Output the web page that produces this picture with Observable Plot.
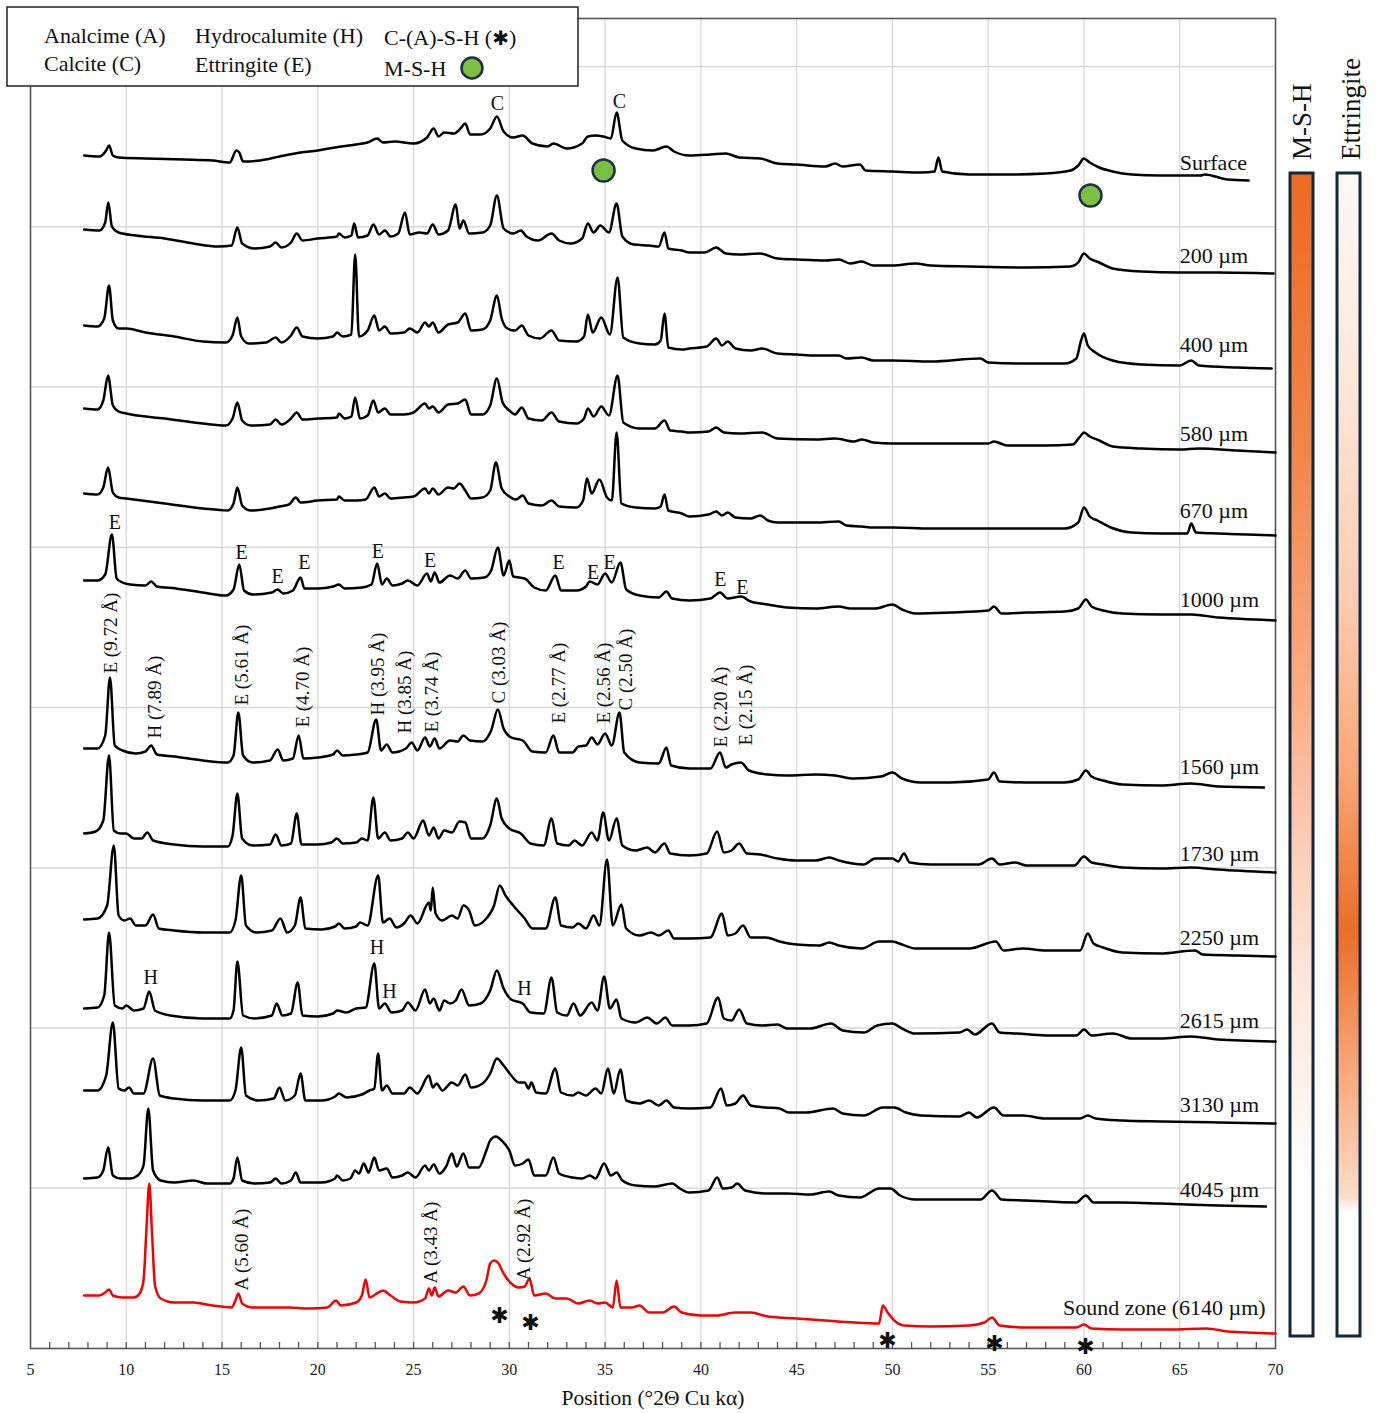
<!DOCTYPE html>
<html><head><meta charset="utf-8">
<script src="https://cdn.jsdelivr.net/npm/d3@7"></script>
<script src="https://cdn.jsdelivr.net/npm/@observablehq/plot@0.6"></script>
<style>body{margin:0;background:#fff} #chart{width:1381px;height:1413px}</style>
</head><body><div id="chart"></div>
<script>
const SERIF = '"Liberation Serif","Times New Roman",Times,serif';

// ---- data (2θ, intensity a.u.) pairs, intensity above each pattern's own offset ----
const xTicks = [5,10,15,20,25,30,35,40,45,50,55,60,65,70];
const sampleNames = ["Surface","200 µm","400 µm","580 µm","670 µm","1000 µm","1560 µm","1730 µm","2250 µm","2615 µm","3130 µm","4045 µm","Sound zone (6140 µm)"];
const offsets = [1163,1068,978,888,808,723,558,473,388,303,218,138,8];
const labelX = [65.0,65.0,65.0,65.0,65.0,65.0,65.0,65.0,65.0,65.0,65.0,65.0,58.9];
const labelY = [1186,1093,1004,915,838,749,582,495,411,328,244,159,41];

const surface = [7.8,30, 8.6,29, 8.95,35, 9.1,40, 9.3,30, 9.6,28, 11,27, 13,26, 14.5,25, 15.4,23, 15.75,35, 15.9,33, 16.1,24, 17,25, 18,29, 19.1,33, 20,35, 20.9,38, 22,41, 22.6,43, 23.1,47, 23.4,43, 24,44, 25,42, 25.7,48, 26.05,57, 26.3,49, 26.6,53, 27.1,52, 27.45,57, 27.7,62, 27.95,51, 28.5,51, 29.0,57, 29.35,69, 29.7,54, 30.2,48, 30.7,50, 31.2,42, 32,39, 32.3,42, 33,37, 33.8,42, 34.1,49, 34.5,50, 34.9,49, 35.3,47, 35.6,73, 35.9,45, 36.6,37, 37.5,35, 38.2,39, 38.6,34, 39.4,30, 40.5,31, 41.3,32, 42,28, 43.1,27, 44,22, 45,21, 46.5,19, 47,22, 47.4,19, 48.3,21, 48.6,15, 50,14, 51.5,13, 52.2,14, 52.4,28, 52.6,14, 54,11, 56,11, 58,12, 59.3,15, 59.7,20, 60,27, 60.3,23, 60.8,18, 61.5,14, 62.5,11, 64,10, 66.1,10, 66.3,11, 67.5,6, 68.6,5];
const um200 = [7.8,51, 8.6,50, 8.9,58, 9.06,78, 9.25,54, 9.6,48, 10.5,45, 12,42, 13.5,37, 14.8,34, 15.5,35, 15.8,53, 16.05,37, 16.7,32, 17.5,34, 17.8,38, 18.1,33, 18.6,38, 18.9,47, 19.2,40, 20,42, 21,44, 21.1,47, 21.4,43, 21.75,45, 21.9,57, 22.1,43, 22.6,45, 22.9,56, 23.2,46, 23.5,50, 23.8,44, 24.2,47, 24.55,68, 24.8,46, 25.3,48, 25.7,47, 26.0,56, 26.3,46, 26.8,50, 27.2,76, 27.4,52, 27.6,60, 27.9,47, 28.6,48, 29.0,55, 29.35,85, 29.7,52, 30.2,47, 30.6,50, 30.9,44, 31.5,40, 32.2,47, 32.6,40, 33.2,37, 33.8,42, 34.1,57, 34.4,48, 34.75,55, 35.2,48, 35.6,77, 35.9,44, 36.5,36, 37.3,35, 37.8,34, 38.1,48, 38.3,32, 39,30, 39.4,28, 40.2,28, 40.8,33, 41.3,27, 42,26, 43.1,27, 44,22, 45,21, 46.5,20, 47.2,21, 47.8,17, 48.4,19, 49,15, 50,15, 51.2,17, 52,15, 54,14, 57,13, 59.3,14, 59.7,18, 60,27, 60.3,22, 60.8,18, 61.5,12, 63,9, 65,8, 67,8, 69.9,7];
const um400 = [7.8,45, 8.5,44, 8.85,52, 9.1,85, 9.3,50, 9.6,42, 10,42, 11,38, 12.5,34, 14,29, 15.2,28, 15.55,35, 15.8,53, 16.0,34, 16.4,27, 17.3,28, 17.8,33, 18.1,28, 18.6,35, 18.9,43, 19.2,34, 20,32, 20.8,34, 21.0,38, 21.3,34, 21.75,36, 21.95,116, 22.15,34, 22.6,40, 22.95,55, 23.2,40, 23.5,44, 23.8,37, 24.5,38, 24.8,42, 25.2,38, 25.6,48, 25.8,44, 26.0,48, 26.3,38, 26.8,46, 27.3,48, 27.7,57, 28.0,40, 28.6,41, 29.0,50, 29.35,75, 29.6,52, 29.9,42, 30.3,40, 30.65,45, 31.0,35, 31.6,32, 32.2,40, 32.6,30, 33.5,29, 33.9,34, 34.1,56, 34.35,38, 34.8,53, 35.25,36, 35.65,93, 35.95,33, 36.8,27, 37.6,26, 37.9,30, 38.1,57, 38.3,23, 39,21, 39.4,22, 40.3,24, 40.8,32, 41.1,25, 41.4,29, 41.8,22, 42.6,20, 43.2,22, 44,17, 45,16, 46,15, 47.2,15, 47.6,12, 48.4,13, 49,10, 50,10, 52,9, 54.6,12, 55,8, 57,7, 59,7, 59.6,12, 59.85,30, 60.0,37, 60.2,25, 60.6,18, 61.5,10, 63,6, 65,5, 65.6,10, 66,5, 68,3, 69.8,2];
const um580 = [7.8,52, 8.5,51, 8.8,60, 9.05,85, 9.3,55, 9.6,49, 10,47, 12,42, 14,37, 15.2,35, 15.55,42, 15.8,58, 16.05,40, 16.5,35, 17.5,36, 17.8,41, 18.1,36, 18.6,42, 18.9,48, 19.2,41, 20,42, 21,43, 21.1,47, 21.4,42, 21.75,44, 21.95,63, 22.2,42, 22.6,45, 22.9,60, 23.15,48, 23.5,52, 23.8,46, 24.5,46, 25.0,48, 25.6,57, 25.8,52, 26.0,54, 26.3,48, 26.8,56, 27.3,57, 27.7,61, 28.0,46, 28.6,46, 29.0,55, 29.35,82, 29.65,58, 30.0,50, 30.3,46, 30.65,53, 31.0,42, 31.7,40, 32.2,48, 32.6,39, 33.5,37, 33.9,42, 34.1,52, 34.4,44, 34.8,54, 35.2,45, 35.65,85, 35.95,38, 36.8,32, 37.6,32, 38.1,40, 38.4,30, 39,29, 39.4,28, 40.4,29, 40.8,33, 41.2,28, 42,27, 43.2,28, 44,22, 46,21, 47,22, 48,19, 48.4,21, 49,18, 50,17, 52,17, 55,17, 55.3,19, 56,15, 58,15, 59.4,16, 59.8,24, 60,28, 60.3,24, 60.8,20, 61.5,14, 63,12, 65,11, 66,12, 68,10, 70,8];
const um670 = [7.8,47, 8.5,46, 8.8,53, 9.05,73, 9.3,48, 9.6,43, 10,42, 12,37, 14,32, 15.3,30, 15.6,37, 15.8,53, 16.05,35, 16.5,30, 17.5,32, 18.0,34, 18.5,36, 18.85,43, 19.1,38, 20,40, 21,41, 21.1,44, 21.4,40, 22,40, 22.5,41, 22.95,53, 23.2,44, 23.5,47, 23.8,42, 24.5,43, 25.0,44, 25.6,52, 25.8,47, 26.0,52, 26.3,46, 26.8,53, 27.1,52, 27.4,57, 27.7,50, 28.0,42, 28.6,43, 29.0,50, 29.3,78, 29.6,52, 30.0,44, 30.35,41, 30.7,45, 31.0,37, 31.7,35, 32.2,40, 32.6,34, 33.5,33, 33.85,40, 34.05,62, 34.3,47, 34.7,61, 35.1,43, 35.35,40, 35.6,108, 35.85,37, 36.6,33, 37.6,32, 37.9,34, 38.1,46, 38.3,30, 39,27, 39.4,24, 40.4,26, 40.8,29, 41.1,25, 41.4,28, 41.8,23, 42.6,22, 43.1,25, 43.5,20, 44,18, 46,18, 47.2,19, 47.6,15, 48.4,14, 49,13, 50,13, 52,12, 55,12, 57,12, 59,12, 59.7,18, 60.0,33, 60.3,24, 60.7,20, 61.4,13, 62.5,8, 64,7, 65.4,7, 65.6,17, 65.85,8, 67,7, 68.5,6, 70,5];
const um1000 = [7.8,45, 8.5,45, 8.9,51, 9.25,91, 9.5,47, 9.8,43, 10.2,41, 11.0,40, 11.3,44, 11.6,39, 12.6,37, 14,33, 15.2,30, 15.6,36, 15.9,61, 16.15,35, 16.6,31, 17.6,33, 17.9,36, 18.2,32, 18.7,35, 19.1,48, 19.3,37, 20,37, 20.8,39, 21.1,41, 21.4,37, 22.3,38, 22.8,41, 23.1,62, 23.35,41, 23.6,47, 23.9,40, 24.4,42, 24.7,45, 25.2,40, 25.7,52, 25.9,44, 26.1,53, 26.35,43, 26.9,50, 27.3,47, 27.7,55, 28.0,47, 28.7,48, 29.05,55, 29.4,78, 29.7,50, 30.0,65, 30.2,49, 30.8,47, 31.3,38, 31.9,35, 32.4,50, 32.7,35, 33.5,35, 34.0,39, 34.2,44, 34.6,41, 35.0,52, 35.35,43, 35.8,63, 36.1,36, 36.8,30, 37.8,28, 38.2,34, 38.5,27, 39.4,25, 40.5,27, 41.0,33, 41.4,27, 42.1,29, 42.6,24, 43.5,21, 44.5,18, 46,17, 47.2,19, 47.8,17, 49.1,17, 50,21, 50.5,16, 51.2,12, 53,13, 55.0,15, 55.3,19, 55.7,12, 57,13, 59,14, 59.7,17, 60.1,26, 60.4,19, 61,15, 62,12, 64,11, 65.6,11, 67,8, 69,6, 70,5];
const um1560 = [7.8,42, 8.5,42, 8.9,55, 9.15,113, 9.4,45, 9.8,40, 10.5,37, 11.0,39, 11.3,45, 11.6,36, 12.5,34, 14,30, 15.3,28, 15.6,35, 15.85,78, 16.1,35, 16.6,28, 17.5,30, 17.9,41, 18.2,30, 18.7,32, 19.0,55, 19.25,32, 20,33, 20.8,36, 21.0,40, 21.3,35, 22.0,36, 22.6,38, 23.05,71, 23.3,40, 23.6,46, 23.9,38, 24.6,42, 24.9,48, 25.2,40, 25.6,53, 25.85,44, 26.1,52, 26.35,42, 26.9,50, 27.3,49, 27.6,55, 27.95,50, 28.6,49, 29.05,60, 29.4,81, 29.7,62, 30.1,53, 30.7,50, 31.2,39, 31.9,38, 32.3,55, 32.6,38, 33.3,38, 33.6,44, 34.0,45, 34.3,53, 34.6,46, 35.0,57, 35.35,45, 35.75,78, 36.0,38, 36.8,28, 37.8,27, 38.2,43, 38.45,25, 39.4,22, 40.5,22, 41.0,38, 41.3,23, 41.6,26, 42.1,28, 42.5,20, 43.5,16, 44.5,15, 46,16, 47,15, 48,12, 49.4,14, 50,18, 50.5,12, 51.5,8, 53,8, 55.0,11, 55.3,18, 55.6,9, 57,8, 59,8, 59.7,11, 60.1,20, 60.4,14, 61,10, 62,6, 64,5, 65.6,7, 67,4, 69.4,3];
const um1730 = [7.8,42, 8.4,44, 8.8,55, 9.1,120, 9.35,45, 9.7,42, 10.0,42, 10.4,37, 10.8,37, 11.1,43, 11.4,35, 12.5,31, 14,29, 15.3,29, 15.55,40, 15.8,82, 16.05,37, 16.6,30, 17.5,31, 17.8,41, 18.1,30, 18.6,32, 18.9,62, 19.15,31, 20,31, 20.7,33, 21.0,37, 21.3,32, 22.0,33, 22.3,37, 22.6,35, 22.9,78, 23.15,37, 23.5,43, 23.8,35, 24.4,37, 24.7,43, 25.0,37, 25.5,55, 25.8,40, 26.05,48, 26.3,37, 26.6,45, 27.0,43, 27.4,54, 27.7,53, 28.0,37, 28.6,37, 29.0,50, 29.35,77, 29.6,57, 30.0,47, 30.6,42, 31.1,32, 31.8,30, 32.2,57, 32.5,32, 33.1,30, 33.4,35, 33.8,30, 34.3,43, 34.6,35, 34.9,63, 35.2,35, 35.6,57, 35.9,30, 36.6,25, 37.2,28, 37.6,23, 38.1,32, 38.4,22, 39.4,20, 40.3,22, 40.85,44, 41.2,23, 41.6,25, 42.0,32, 42.4,22, 43.1,21, 44,17, 45,15, 46,15, 46.7,18, 47.2,15, 48.5,11, 49.1,17, 50.0,17, 50.3,14, 50.6,22, 50.9,13, 52,11, 54.5,11, 55.2,17, 55.6,11, 56.4,13, 57,10, 59.5,10, 60.0,19, 60.4,13, 61,11, 62,8, 64,7, 65.6,8, 67,6, 70,3];
const um2250 = [7.8,41, 8.5,42, 9.0,55, 9.35,115, 9.6,45, 9.9,40, 10.2,42, 10.5,35, 11.0,35, 11.4,46, 11.7,32, 12.5,30, 14,28, 15.4,28, 15.7,40, 16.0,85, 16.25,35, 16.8,28, 17.6,30, 18.05,42, 18.4,28, 18.8,35, 19.1,63, 19.35,32, 20.2,31, 20.9,34, 21.1,37, 21.4,32, 22.0,34, 22.2,38, 22.6,35, 23.15,85, 23.4,38, 23.75,42, 24.1,33, 24.5,37, 24.85,45, 25.2,37, 25.8,58, 25.9,50, 26.0,73, 26.15,47, 26.5,40, 27.0,45, 27.3,42, 27.6,55, 27.9,50, 28.2,35, 28.7,40, 29.2,55, 29.5,75, 29.8,65, 30.2,55, 30.8,42, 31.2,32, 31.9,32, 32.4,63, 32.7,35, 33.3,33, 33.6,37, 34.0,32, 34.4,45, 34.7,35, 35.1,101, 35.4,35, 35.85,56, 36.1,32, 36.8,25, 37.4,28, 37.8,25, 38.3,30, 38.6,22, 39.4,22, 40.5,23, 41.1,47, 41.4,25, 41.8,27, 42.2,35, 42.6,23, 43.4,23, 44.1,19, 45,16, 46.2,15, 46.7,18, 47.2,15, 48.4,12, 49.3,19, 50.0,19, 50.5,16, 51.2,12, 54,12, 55.4,19, 55.8,10, 56.8,12, 58,10, 59.8,10, 60.2,27, 60.5,17, 61,13, 62,8, 64,7, 65.8,10, 66.2,6, 68,5, 70,4];
const um2615 = [7.8,37, 8.5,38, 8.85,50, 9.1,113, 9.4,40, 9.8,37, 10.0,40, 10.4,35, 10.9,37, 11.2,54, 11.5,35, 12.3,30, 14,27, 15.4,27, 15.6,35, 15.8,84, 16.1,30, 16.7,27, 17.6,30, 17.85,42, 18.15,30, 18.6,32, 18.95,63, 19.2,30, 20,29, 20.8,32, 21.0,35, 21.5,33, 22.0,37, 22.5,38, 22.95,82, 23.2,37, 23.5,42, 23.85,33, 24.4,35, 24.7,43, 25.1,35, 25.6,56, 25.85,42, 26.05,47, 26.35,35, 26.6,45, 26.9,42, 27.2,45, 27.5,56, 27.9,40, 28.5,42, 29.0,55, 29.35,75, 29.7,57, 30.1,46, 30.7,42, 31.1,33, 31.8,32, 32.2,68, 32.5,33, 33.0,30, 33.35,42, 33.7,30, 34.3,43, 34.6,35, 34.95,69, 35.25,37, 35.6,46, 35.85,27, 36.6,23, 37.2,28, 37.7,22, 38.15,28, 38.5,20, 39.4,20, 40.3,22, 40.9,48, 41.2,27, 41.6,25, 42.0,36, 42.4,22, 43.2,20, 44.0,21, 44.5,17, 45.7,17, 46.8,22, 47.4,15, 48.5,13, 49.2,20, 50.0,22, 50.5,17, 51.2,12, 53.5,13, 53.9,16, 54.3,11, 55.2,22, 55.6,13, 56.5,12, 58,10, 59.6,10, 60.0,16, 60.4,10, 61.5,12, 62.5,7, 64,7, 65.6,9, 67,6, 70,4];
const um3130 = [7.8,40, 8.5,40, 8.95,55, 9.3,108, 9.6,42, 9.9,40, 10.15,43, 10.4,37, 10.9,37, 11.4,72, 11.75,35, 12.5,32, 14,30, 15.4,30, 15.7,40, 16.0,83, 16.25,35, 16.9,30, 17.7,32, 18.0,43, 18.3,30, 18.8,35, 19.1,57, 19.35,30, 20.2,30, 20.9,34, 21.1,37, 21.5,33, 22.3,36, 22.7,40, 22.95,42, 23.15,77, 23.35,40, 23.6,45, 23.9,37, 24.5,37, 24.8,43, 25.2,37, 25.8,55, 26.0,43, 26.2,47, 26.5,40, 27.0,48, 27.3,45, 27.7,56, 28.0,43, 28.6,47, 29.0,57, 29.35,72, 29.7,65, 30.1,55, 30.5,48, 30.8,48, 31.0,42, 31.15,48, 31.4,38, 31.9,37, 32.4,62, 32.7,38, 33.3,35, 33.6,38, 34.0,35, 34.5,42, 34.8,37, 35.15,62, 35.45,37, 35.8,61, 36.1,30, 36.8,27, 37.3,30, 37.8,25, 38.2,30, 38.6,23, 39.4,22, 40.5,23, 41.05,42, 41.35,25, 41.8,27, 42.2,35, 42.6,25, 43.4,23, 44.1,22, 44.6,18, 45.5,18, 46.9,22, 47.4,17, 48.5,15, 49.5,23, 50.1,23, 50.7,18, 51.5,15, 53.5,14, 54.0,18, 54.4,13, 55.3,23, 55.8,15, 56.8,15, 58,12, 59.8,12, 60.2,15, 60.6,12, 62,10, 64,9, 67,8, 70,7];
const um4045 = [7.8,32, 8.5,33, 8.8,40, 9.05,63, 9.3,35, 9.7,32, 10.2,32, 10.6,35, 10.9,45, 11.15,102, 11.4,40, 11.8,30, 12.5,28, 13.5,30, 14.2,27, 15.4,27, 15.6,32, 15.8,53, 16.05,30, 16.7,27, 17.5,28, 17.8,32, 18.1,27, 18.6,30, 18.85,38, 19.1,28, 20.2,28, 20.9,32, 21.0,35, 21.3,30, 21.7,32, 21.95,40, 22.15,37, 22.4,47, 22.65,38, 22.95,53, 23.2,40, 23.6,42, 23.9,33, 24.4,35, 24.7,38, 25.1,33, 25.6,45, 25.8,40, 26.05,46, 26.35,37, 26.7,44, 27.0,57, 27.25,44, 27.6,57, 27.9,43, 28.4,43, 28.8,60, 29.0,70, 29.3,74, 29.6,70, 30.0,60, 30.3,45, 30.7,47, 31.0,51, 31.3,35, 31.9,35, 32.3,53, 32.6,37, 33.3,33, 33.8,32, 34.2,35, 34.5,32, 34.95,47, 35.3,35, 35.6,38, 35.9,30, 36.6,25, 37.6,24, 38.5,27, 38.9,22, 39.4,18, 40.4,20, 40.85,33, 41.15,22, 41.6,23, 41.9,27, 42.3,20, 43.5,17, 44.5,17, 45.7,16, 46.7,19, 47.2,15, 48.3,13, 49.3,22, 49.9,22, 50.4,15, 51.2,11, 53.5,11, 54.6,11, 55.2,20, 55.7,11, 57,10, 59.6,8, 60.1,15, 60.5,8, 62,8, 64,7, 67,5, 69.5,4];
const soundZone = [7.8,45, 8.6,45, 8.9,48, 9.1,51, 9.3,45, 9.8,43, 10.4,43, 10.7,47, 10.9,60, 11.05,110, 11.2,157, 11.35,105, 11.5,55, 11.8,42, 12.5,38, 13.5,38, 14.5,35, 15.5,33, 15.7,40, 15.85,47, 16.05,37, 16.6,33, 17.5,33, 18.5,33, 19.5,32, 20.5,33, 20.95,40, 21.2,35, 22.0,38, 22.3,45, 22.5,61, 22.7,43, 23.0,46, 23.4,50, 23.8,45, 24.3,39, 25.0,38, 25.6,42, 25.8,52, 25.95,45, 26.1,53, 26.3,44, 26.8,50, 27.2,48, 27.6,54, 27.95,45, 28.4,47, 28.8,60, 29.0,77, 29.2,80, 29.4,78, 29.7,67, 30.1,57, 30.5,53, 30.8,54, 31.05,62, 31.3,45, 31.9,47, 32.4,42, 33.0,42, 33.6,37, 34.2,40, 34.6,37, 35.0,38, 35.4,33, 35.6,60, 35.8,33, 36.4,33, 36.8,35, 37.3,28, 38.0,28, 38.6,34, 39.0,28, 40.0,25, 40.8,25, 41.8,28, 42.6,28, 43.5,24, 45,22, 46.5,20, 48,18, 49.3,17, 49.5,35, 49.75,28, 50.1,20, 50.6,15, 52,14, 54,15, 54.8,18, 55.2,23, 55.6,15, 57,13, 59.6,13, 60.0,16, 60.4,12, 62,11, 64.5,11, 66.4,12, 67.5,9, 70,7];

const patterns = [surface, um200, um400, um580, um670, um1000, um1560, um1730, um2250, um2615, um3130, um4045, soundZone];

// peak annotations
const cLabels = [{x:29.38,y:1245,t:"C"},{x:35.75,y:1247,t:"C"}];
const mshMarks = [{x:34.92,y:1178},{x:60.34,y:1153}];
const eLabelX = [9.41,16.02,17.9,19.3,23.14,25.86,32.57,34.37,35.23,41.02,42.17];
const eLabelY = [826,796,772,786,797,788,786,776,786,769,761];
const dLabels = ["E (9.72 Å)","H (7.89 Å)","E (5.61 Å)","E (4.70 Å)","H (3.95 Å)","H (3.85 Å)","E (3.74 Å)","C (3.03 Å)","E (2.77 Å)","E (2.56 Å)","C (2.50 Å)","E (2.20 Å)","E (2.15 Å)"];
const dLabelX = [9.18,11.47,16.02,19.2,23.12,24.53,25.94,29.43,32.57,34.92,36.06,41.02,42.33];
const dLabelY = [675,610,643,621,633,615,616,645,625,625,638,601,603];
const hLabelX = [11.27,23.09,23.74,30.79];
const hLabelY = [371,401,357,360];
const aLabels = ["A (5.60 Å)","A (3.43 Å)","A (2.92 Å)"];
const aLabelX = [16.02,25.88,30.74];
const aLabelY = [58,65,68];
const starX = [29.49,31.1,49.74,55.33,60.08];
const starY = [33,26,8,5,2];

// ---- build tables ----
const rows = [];
patterns.forEach((p, i) => {
  for (let k = 0; k < p.length; k += 2) rows.push({name: sampleNames[i], i, x: p[k], y: offsets[i] + p[k + 1]});
});
const blackRows = rows.filter(d => d.i < 12);
const redRows = rows.filter(d => d.i === 12);
const nameRows = sampleNames.map((n, i) => ({t: n, x: labelX[i], y: labelY[i]}));
const eRows = eLabelX.map((x, i) => ({x, y: eLabelY[i]}));
const dRows = dLabels.map((t, i) => ({t, x: dLabelX[i], y: dLabelY[i]}));
const hRows = hLabelX.map((x, i) => ({x, y: hLabelY[i]}));
const aRows = aLabels.map((t, i) => ({t, x: aLabelX[i], y: aLabelY[i]}));
const starRows = starX.map((x, i) => ({x, y: starY[i]}));
const gridYs = d3.range(1, 9).map(k => k * 160.25);
const minorTicks = d3.range(6, 70);

const chart = Plot.plot({
  width: 1381, height: 1413,
  marginLeft: 30, marginRight: 106, marginTop: 18, marginBottom: 65,
  style: {fontFamily: SERIF, background: "#fff", color: "#222"},
  x: {domain: [5, 70]},
  y: {domain: [0, 1330], axis: null},
  marks: [
    Plot.gridX(xTicks.slice(1, -1), {stroke: "#d9d9d9", strokeOpacity: 1, strokeWidth: 1.3}),
    Plot.gridY(gridYs, {stroke: "#d9d9d9", strokeOpacity: 1, strokeWidth: 1.3}),
    Plot.ruleX(minorTicks, {y1: 0, y2: 6, stroke: "#555", strokeWidth: 1.3}),
    Plot.frame({stroke: "#555", strokeWidth: 1.6}),
    Plot.axisX({ticks: xTicks, tickSize: 0, tickPadding: 15, fontSize: 16, fontFamily: SERIF, tickFormat: d => d, label: null}),
    Plot.text(["Position (°2Θ Cu kα)"], {frameAnchor: "bottom", dy: 56, fontSize: 21.5, fontFamily: SERIF, fill: "#111"}),
    Plot.line(blackRows, {x: "x", y: "y", z: "name", stroke: "#000", strokeWidth: 2.5, strokeLinejoin: "round", curve: "monotone-x"}),
    Plot.line(redRows, {x: "x", y: "y", stroke: "#f20000", strokeWidth: 2.5, strokeLinejoin: "round", curve: "monotone-x"}),
    Plot.text(nameRows, {x: "x", y: "y", text: "t", textAnchor: "start", fontSize: 22, fontFamily: SERIF, fill: "#111"}),
    Plot.text(cLabels, {x: "x", y: "y", text: "t", fontSize: 20, fontFamily: SERIF, fill: "#111"}),
    Plot.dot(mshMarks, {x: "x", y: "y", r: 11, fill: "#7cbf43", stroke: "#1b3147", strokeWidth: 2.5}),
    Plot.text(eRows, {x: "x", y: "y", text: () => "E", fontSize: 20, fontFamily: SERIF, fill: "#111"}),
    Plot.text(dRows, {x: "x", y: "y", text: "t", rotate: -90, textAnchor: "start", fontSize: 19, fontFamily: SERIF, fill: "#111"}),
    Plot.text(hRows, {x: "x", y: "y", text: () => "H", fontSize: 20, fontFamily: SERIF, fill: "#111"}),
    Plot.text(aRows, {x: "x", y: "y", text: "t", rotate: -90, textAnchor: "start", fontSize: 19, fontFamily: SERIF, fill: "#111"}),
    Plot.text(starRows, {x: "x", y: "y", text: () => "✱", fontSize: 22, fontFamily: "DejaVu Sans", fill: "#111"})
  ]
});
document.getElementById("chart").appendChild(chart);

// ---- legend box and gradient bars (decoration in pixel space) ----
const svg = d3.select(chart.tagName.toLowerCase() === "svg" ? chart : chart.querySelector("svg"));
const defs = svg.append("defs");
function grad(id, stops) {
  const g = defs.append("linearGradient").attr("id", id).attr("x1", 0).attr("y1", 0).attr("x2", 0).attr("y2", 1);
  stops.forEach(([o, c]) => g.append("stop").attr("offset", o).attr("stop-color", c));
}
grad("gMSH", [[0,"#ec6a24"],[0.24,"#f2864a"],[0.47,"#fbb18a"],[0.58,"#fdcdb5"],[0.69,"#fee6d9"],[0.8,"#fff4ee"],[0.87,"#ffffff"],[1,"#ffffff"]]);
grad("gEtt", [[0,"#fff8f5"],[0.195,"#fee5d8"],[0.367,"#fccbb1"],[0.52,"#f9a574"],[0.651,"#eb6d28"],[0.78,"#f9ab80"],[0.88,"#fddcc9"],[0.893,"#ffffff"],[1,"#ffffff"]]);
const deco = svg.append("g").attr("text-anchor", "start");
deco.append("rect").attr("x", 1290).attr("y", 173).attr("width", 23).attr("height", 1163).attr("fill", "url(#gMSH)").attr("stroke", "#14283c").attr("stroke-width", 3);
deco.append("rect").attr("x", 1337).attr("y", 173).attr("width", 23).attr("height", 1163).attr("fill", "url(#gEtt)").attr("stroke", "#14283c").attr("stroke-width", 3);
deco.append("text").attr("transform", "translate(1311,160) rotate(-90)").attr("text-anchor", "start").attr("font-family", SERIF).attr("font-size", 27).attr("fill", "#111").text("M-S-H");
deco.append("text").attr("transform", "translate(1360,160) rotate(-90)").attr("text-anchor", "start").attr("font-family", SERIF).attr("font-size", 27).attr("fill", "#111").text("Ettringite");

const leg = svg.append("g").attr("font-family", SERIF).attr("font-size", 22).attr("fill", "#111").attr("text-anchor", "start");
leg.append("rect").attr("x", 7).attr("y", 7).attr("width", 571).attr("height", 79).attr("fill", "#fff").attr("stroke", "#222").attr("stroke-width", 1.5);
leg.append("text").attr("x", 44).attr("y", 43).text("Analcime (A)");
leg.append("text").attr("x", 44).attr("y", 71).text("Calcite (C)");
leg.append("text").attr("x", 195).attr("y", 43).text("Hydrocalumite (H)");
leg.append("text").attr("x", 195).attr("y", 72).text("Ettringite (E)");
const t3 = leg.append("text").attr("x", 384).attr("y", 45);
t3.append("tspan").text("C-(A)-S-H (");
t3.append("tspan").attr("font-family", "DejaVu Sans").attr("font-size", 20).attr("font-weight", "bold").text("✱");
t3.append("tspan").text(")");
leg.append("text").attr("x", 384).attr("y", 76).text("M-S-H");
leg.append("circle").attr("cx", 472).attr("cy", 68).attr("r", 10.5).attr("fill", "#7cbf43").attr("stroke", "#1b3147").attr("stroke-width", 2.5);
</script></body></html>
